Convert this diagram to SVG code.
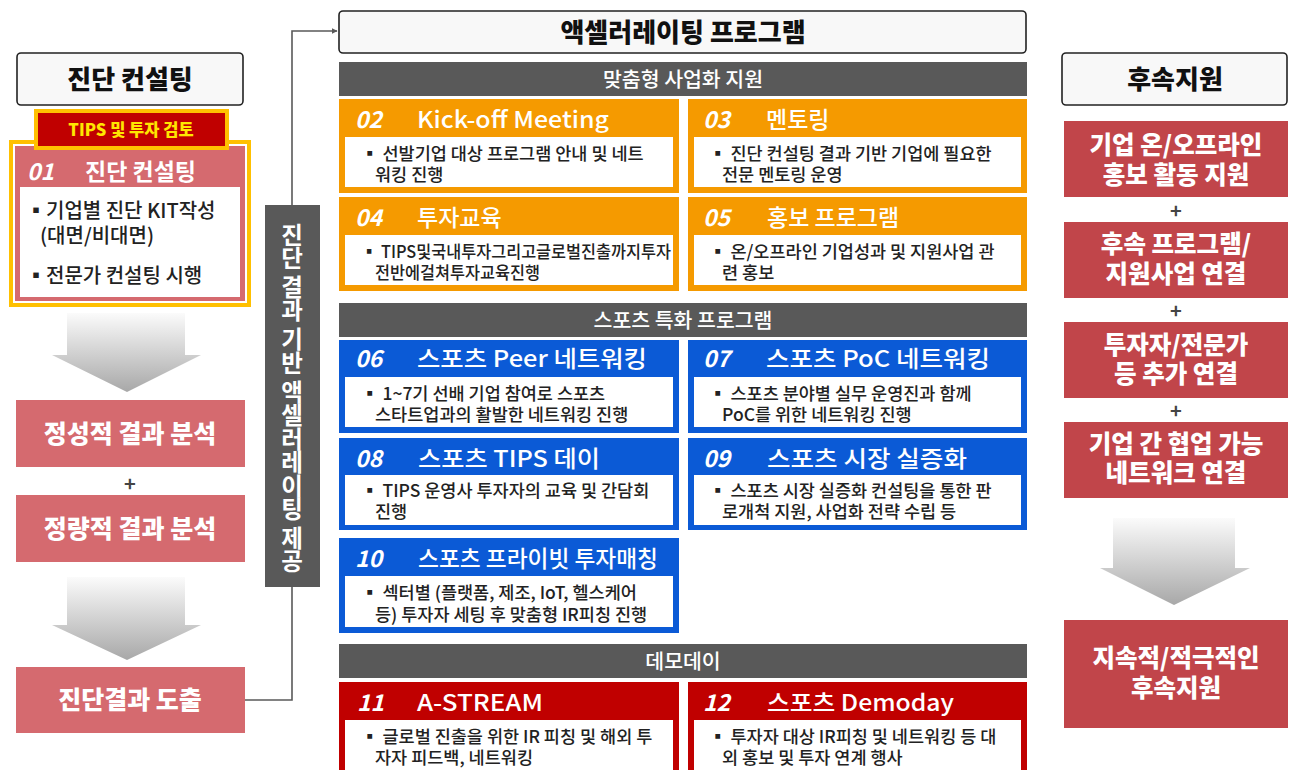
<svg xmlns="http://www.w3.org/2000/svg" width="1292" height="770" viewBox="0 0 1292 770">
<defs>
<linearGradient id="ag" x1="0" y1="0" x2="0" y2="1">
<stop offset="0" stop-color="#fbfbfb"/>
<stop offset="1" stop-color="#a8a8a8"/>
</linearGradient>
<marker id="ah" viewBox="0 0 10 10" refX="9" refY="5" markerWidth="6" markerHeight="6" orient="auto" markerUnits="userSpaceOnUse">
<path d="M0,0 L10,5 L0,10 z" fill="#595959"/>
</marker>
<style>
text{font-family:"Noto Sans CJK KR","Noto Sans",sans-serif;}
.hdr{fill:#f8f8f8;stroke:#222;stroke-width:1.6;}
.hdrt{font-size:26px;font-weight:900;fill:#111;text-anchor:middle;}
.sec{fill:#595959;}
.sect{font-size:20.5px;font-weight:500;fill:#fff;text-anchor:middle;}
.or{fill:#f59a00;}
.bl{fill:#0b5ad6;}
.dr{fill:#c00000;}
.wb{fill:#fff;}
.num{font-size:23px;font-style:italic;font-weight:700;fill:#fff;}
.ttl{font-size:23px;font-weight:500;fill:#fff;}
.body{font-size:17.5px;font-weight:500;fill:#222;}
.lbody{font-size:20px;font-weight:500;fill:#222;}
.pink{fill:#d56a6f;}
.pinkt{font-size:25px;font-weight:900;fill:#fff;text-anchor:middle;}
.rr{fill:#c1454a;}
.rrt{font-size:24.5px;font-weight:900;fill:#fff;text-anchor:middle;}
.plus{font-size:20px;font-weight:700;fill:#444;text-anchor:middle;}
.arr{fill:url(#ag);}
.conn{fill:none;stroke:#595959;stroke-width:1.6;}
</style>
</defs>

<g id="connectors">
<polyline class="conn" points="245,700 292,700 292,31 337,31" marker-end="url(#ah)"/>
</g>

<!-- Left column -->
<g id="left-header">
<rect class="hdr" x="17" y="53" width="226" height="52" rx="4"/>
<text class="hdrt" x="130" y="89">진단 컨설팅</text>
</g>

<g id="card01">
<rect x="9" y="140" width="242" height="167" fill="#ffc000"/>
<rect x="13" y="144" width="234" height="159" fill="#fff"/>
<rect x="15" y="146" width="230" height="155" class="pink"/>
<rect x="20" y="187" width="220" height="110" class="wb"/>
<text class="num" x="27" y="180">01</text>
<text class="ttl" x="85" y="180" style="font-weight:700">진단 컨설팅</text>
<text class="lbody" x="26" y="218">▪기업별 진단 KIT작성</text>
<text class="lbody" x="40" y="243">(대면/비대면)</text>
<text class="lbody" x="26" y="283">▪전문가 컨설팅 시행</text>
</g>

<g id="tips-label">
<rect x="34" y="109" width="195" height="41" fill="#ffc000"/>
<rect x="38" y="113" width="187" height="33" fill="#c00000"/>
<text x="131" y="136" font-size="16.5" font-weight="900" fill="#ffe600" text-anchor="middle">TIPS 및 투자 검토</text>
</g>

<g id="arrow-left-1">
<polygon class="arr" points="67,313 185,313 185,355 201,355 127,392 52,355 67,355"/>
</g>

<g id="qual">
<rect class="pink" x="16" y="400" width="229" height="67"/>
<text class="pinkt" x="130" y="443">정성적 결과 분석</text>
</g>
<text class="plus" x="130" y="491">+</text>
<g id="quant">
<rect class="pink" x="16" y="495" width="229" height="67"/>
<text class="pinkt" x="130" y="538">정량적 결과 분석</text>
</g>

<g id="arrow-left-2">
<polygon class="arr" points="67,577 185,577 185,625 201,625 127,660 52,625 67,625"/>
</g>

<g id="result">
<rect class="pink" x="16" y="667" width="229" height="66"/>
<text class="pinkt" x="130" y="709">진단결과 도출</text>
</g>

<g id="vertical-label">
<rect x="265" y="205" width="55" height="382" fill="#595959"/>
<text x="292" y="398" font-size="23.5" font-weight="700" fill="#fff" writing-mode="vertical-rl" text-anchor="middle">진단 결과 기반 액셀러레이팅 제공</text>
</g>

<!-- Middle -->
<g id="prog-header">
<rect class="hdr" x="339" y="11" width="687" height="42" rx="4"/>
<text class="hdrt" x="683" y="42">액셀러레이팅 프로그램</text>
</g>

<g id="sec1">
<rect class="sec" x="339" y="62" width="688" height="34"/>
<text class="sect" x="683" y="87">맞춤형 사업화 지원</text>
</g>

<g id="card02">
<rect class="or" x="339" y="99" width="340" height="94"/>
<rect class="wb" x="345" y="137" width="328" height="50"/>
<text class="num" x="355" y="128">02</text>
<text class="ttl" x="417" y="128" textLength="192" lengthAdjust="spacingAndGlyphs">Kick-off Meeting</text>
<text class="body" x="361" y="160">▪ 선발기업 대상 프로그램 안내 및 네트</text>
<text class="body" x="375" y="181">워킹 진행</text>
</g>

<g id="card03">
<rect class="or" x="688" y="99" width="339" height="94"/>
<rect class="wb" x="694" y="137" width="327" height="50"/>
<text class="num" x="703" y="128">03</text>
<text class="ttl" x="766" y="128">멘토링</text>
<text class="body" x="709" y="160">▪ 진단 컨설팅 결과 기반 기업에 필요한</text>
<text class="body" x="722" y="181">전문 멘토링 운영</text>
</g>

<g id="card04">
<rect class="or" x="339" y="197" width="340" height="94"/>
<rect class="wb" x="345" y="235" width="328" height="50"/>
<text class="num" x="355" y="226">04</text>
<text class="ttl" x="417" y="226">투자교육</text>
<text class="body" x="361" y="258" textLength="310" lengthAdjust="spacingAndGlyphs">▪ TIPS및국내투자그리고글로벌진출까지투자</text>
<text class="body" x="375" y="279" textLength="165" lengthAdjust="spacingAndGlyphs">전반에걸쳐투자교육진행</text>
</g>

<g id="card05">
<rect class="or" x="688" y="197" width="339" height="94"/>
<rect class="wb" x="694" y="235" width="327" height="50"/>
<text class="num" x="703" y="226">05</text>
<text class="ttl" x="767" y="226">홍보 프로그램</text>
<text class="body" x="709" y="258">▪ 온/오프라인 기업성과 및 지원사업 관</text>
<text class="body" x="722" y="279">련 홍보</text>
</g>

<g id="sec2">
<rect class="sec" x="339" y="303" width="688" height="34"/>
<text class="sect" x="683" y="328">스포츠 특화 프로그램</text>
</g>

<g id="card06">
<rect class="bl" x="339" y="340" width="340" height="93"/>
<rect class="wb" x="345" y="377" width="328" height="50"/>
<text class="num" x="355" y="367">06</text>
<text class="ttl" x="417" y="367" textLength="230" lengthAdjust="spacingAndGlyphs">스포츠 Peer 네트워킹</text>
<text class="body" x="361" y="400">▪ 1~7기 선배 기업 참여로 스포츠</text>
<text class="body" x="375" y="421">스타트업과의 활발한 네트워킹 진행</text>
</g>

<g id="card07">
<rect class="bl" x="688" y="340" width="339" height="93"/>
<rect class="wb" x="694" y="377" width="327" height="50"/>
<text class="num" x="703" y="367">07</text>
<text class="ttl" x="766" y="367" textLength="224" lengthAdjust="spacingAndGlyphs">스포츠 PoC 네트워킹</text>
<text class="body" x="709" y="400">▪ 스포츠 분야별 실무 운영진과 함께</text>
<text class="body" x="722" y="421">PoC를 위한 네트워킹 진행</text>
</g>

<g id="card08">
<rect class="bl" x="339" y="438" width="340" height="92"/>
<rect class="wb" x="345" y="475" width="328" height="50"/>
<text class="num" x="355" y="467">08</text>
<text class="ttl" x="418" y="467" textLength="182" lengthAdjust="spacingAndGlyphs">스포츠 TIPS 데이</text>
<text class="body" x="361" y="497">▪ TIPS 운영사 투자자의 교육 및 간담회</text>
<text class="body" x="375" y="518">진행</text>
</g>

<g id="card09">
<rect class="bl" x="688" y="438" width="339" height="92"/>
<rect class="wb" x="694" y="475" width="327" height="50"/>
<text class="num" x="703" y="467">09</text>
<text class="ttl" x="767" y="467" textLength="200" lengthAdjust="spacingAndGlyphs">스포츠 시장 실증화</text>
<text class="body" x="709" y="497">▪ 스포츠 시장 실증화 컨설팅을 통한 판</text>
<text class="body" x="722" y="518">로개척 지원, 사업화 전략 수립 등</text>
</g>

<g id="card10">
<rect class="bl" x="339" y="538" width="340" height="95"/>
<rect class="wb" x="345" y="576" width="328" height="51"/>
<text class="num" x="355" y="567">10</text>
<text class="ttl" x="418" y="567" textLength="240" lengthAdjust="spacingAndGlyphs">스포츠 프라이빗 투자매칭</text>
<text class="body" x="361" y="599">▪ 섹터별 (플랫폼, 제조, IoT, 헬스케어</text>
<text class="body" x="375" y="621">등) 투자자 세팅 후 맞춤형 IR피칭 진행</text>
</g>

<g id="sec3">
<rect class="sec" x="339" y="644" width="688" height="34"/>
<text class="sect" x="683" y="669">데모데이</text>
</g>

<g id="card11">
<rect class="dr" x="339" y="682" width="340" height="90"/>
<rect class="wb" x="345" y="720" width="328" height="52"/>
<text class="num" x="357" y="711">11</text>
<text class="ttl" x="417" y="711" textLength="126" lengthAdjust="spacingAndGlyphs">A-STREAM</text>
<text class="body" x="361" y="743">▪ 글로벌 진출을 위한 IR 피칭 및 해외 투</text>
<text class="body" x="375" y="764">자자 피드백, 네트워킹</text>
</g>

<g id="card12">
<rect class="dr" x="688" y="682" width="339" height="90"/>
<rect class="wb" x="694" y="720" width="327" height="52"/>
<text class="num" x="703" y="711">12</text>
<text class="ttl" x="767" y="711" textLength="187" lengthAdjust="spacingAndGlyphs">스포츠 Demoday</text>
<text class="body" x="709" y="743">▪ 투자자 대상 IR피칭 및 네트워킹 등 대</text>
<text class="body" x="722" y="764">외 홍보 및 투자 연계 행사</text>
</g>

<!-- Right column -->
<g id="right-header">
<rect class="hdr" x="1062" y="53" width="225" height="52" rx="4"/>
<text class="hdrt" x="1175" y="89">후속지원</text>
</g>

<g id="r1">
<rect class="rr" x="1064" y="121" width="224" height="76"/>
<text class="rrt" x="1176" y="154">기업 온/오프라인</text>
<text class="rrt" x="1176" y="184">홍보 활동 지원</text>
</g>
<text class="plus" x="1176" y="218">+</text>
<g id="r2">
<rect class="rr" x="1064" y="222" width="224" height="76"/>
<text class="rrt" x="1176" y="253">후속 프로그램/</text>
<text class="rrt" x="1176" y="283">지원사업 연결</text>
</g>
<text class="plus" x="1176" y="318">+</text>
<g id="r3">
<rect class="rr" x="1064" y="322" width="224" height="76"/>
<text class="rrt" x="1176" y="354">투자자/전문가</text>
<text class="rrt" x="1176" y="383">등 추가 연결</text>
</g>
<text class="plus" x="1176" y="418">+</text>
<g id="r4">
<rect class="rr" x="1064" y="422" width="224" height="76"/>
<text class="rrt" x="1176" y="453">기업 간 협업 가능</text>
<text class="rrt" x="1176" y="482">네트워크 연결</text>
</g>

<g id="arrow-right">
<polygon class="arr" points="1113,518 1235,518 1235,568 1250,568 1174,605 1100,568 1113,568"/>
</g>

<g id="r5">
<rect class="rr" x="1064" y="620" width="224" height="108"/>
<text class="rrt" x="1176" y="667">지속적/적극적인</text>
<text class="rrt" x="1176" y="697">후속지원</text>
</g>
</svg>
